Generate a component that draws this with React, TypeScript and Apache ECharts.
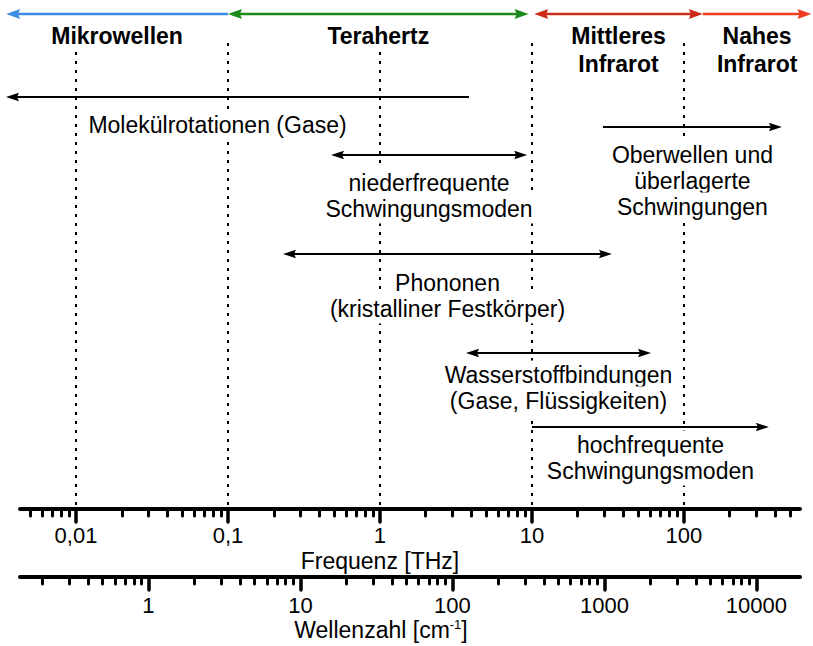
import React, { useEffect, useRef } from "react";
import * as echarts from "echarts";

// ---------- axis data ----------
const FREQ_RANGE = [0.00428, 580]; // THz, visible extent of the frequency axis
const CM_PER_THZ = 33.356; // 1 THz = 33.356 cm^-1
const FREQ_TICKS = [0.01, 0.1, 1, 10, 100];
const FREQ_TICK_LABELS = ["0,01", "0,1", "1", "10", "100"];
const WAVE_TICKS = [1, 10, 100, 1000, 10000];
const WAVE_TICK_LABELS = ["1", "10", "100", "1000", "10000"];
const MINOR_MULTIPLIERS = [2, 3, 4, 5, 6, 7, 8, 9];
const DECADES = [0.001, 0.01, 0.1, 1, 10, 100, 1000, 10000, 100000];

// ---------- spectral bands (top coloured arrows) ----------
const BAND_NAMES = ["Mikrowellen", "Terahertz", "Mittleres\nInfrarot", "Nahes\nInfrarot"];
const BAND_FROM = [0.00347, 0.1, 10.35, 133];
const BAND_TO = [0.1, 9.5, 133, 690];
const BAND_HEAD_START = [true, true, true, false];
const BAND_HEAD_END = [false, true, true, true];

// ---------- processes (black arrows) ----------
const PROC_NAMES = [
  "Molekülrotationen (Gase)",
  "Oberwellen und\nüberlagerte\nSchwingungen",
  "niederfrequente\nSchwingungsmoden",
  "Phononen\n(kristalliner Festkörper)",
  "Wasserstoffbindungen\n(Gase, Flüssigkeiten)",
  "hochfrequente\nSchwingungsmoden",
];
const PROC_FROM = [0.00346, 29.3, 0.476, 0.23, 3.68, 10];
const PROC_TO = [3.85, 441, 9.3, 33.6, 60.7, 362];
const PROC_HEAD_START = [true, false, true, true, true, false];
const PROC_HEAD_END = [false, true, true, true, true, true];
const PROC_LABEL_AT = [0.0853, null, null, null, null, null]; // label centre (THz), null = arrow middle

// ---------- layout & style (pixels) ----------
const FONT = '"Liberation Sans", Arial, Helvetica, sans-serif';
const BAND_COLORS = ["#3a8de2", "#1a8a1a", "#cc2a18", "#f03c1e"];
const BAND_ROW_Y = 14;
const BAND_LABEL_Y = 36;
const PROC_ROW_Y = [97, 127, 155, 254, 353, 427];
const PROC_LABEL_Y = [125, 155, 183, 283, 375, 445];
const GUIDE_TOP = 43;
const GUIDE_BOTTOM = 507;

const lg = (v: number) => Math.log10(v);

function minorValues(lo: number, hi: number) {
  const out: number[] = [];
  DECADES.forEach((d) =>
    MINOR_MULTIPLIERS.forEach((m) => {
      const v = lg(d * m);
      if (v >= lo && v <= hi) out.push(v);
    })
  );
  return out;
}

type Item = {
  from: number;
  to: number;
  labelAt: number;
  y: number;
  labelY: number;
  lines: string[];
  headStart: boolean;
  headEnd: boolean;
  color: string;
  width: number;
  bold: boolean;
  lineH: number;
  headLen: number;
  headHalf: number;
};

function buildItems(): Item[] {
  const items: Item[] = [];
  BAND_NAMES.forEach((name, i) => {
    items.push({
      from: lg(BAND_FROM[i]),
      to: lg(BAND_TO[i]),
      labelAt: (lg(BAND_FROM[i]) + lg(BAND_TO[i])) / 2,
      y: BAND_ROW_Y,
      labelY: BAND_LABEL_Y,
      lines: name.split("\n"),
      headStart: BAND_HEAD_START[i],
      headEnd: BAND_HEAD_END[i],
      color: BAND_COLORS[i],
      width: 2.5,
      bold: true,
      lineH: 28,
      headLen: 14,
      headHalf: 5,
    });
  });
  PROC_NAMES.forEach((name, i) => {
    const la = PROC_LABEL_AT[i];
    items.push({
      from: lg(PROC_FROM[i]),
      to: lg(PROC_TO[i]),
      labelAt: la != null ? lg(la) : (lg(PROC_FROM[i]) + lg(PROC_TO[i])) / 2,
      y: PROC_ROW_Y[i],
      labelY: PROC_LABEL_Y[i],
      lines: name.split("\n"),
      headStart: PROC_HEAD_START[i],
      headEnd: PROC_HEAD_END[i],
      color: "#000",
      width: 2,
      bold: false,
      lineH: 26,
      headLen: 13,
      headHalf: 4.3,
    });
  });
  return items;
}

export default function App() {
  const ref = useRef<HTMLDivElement>(null);

  useEffect(() => {
    document.body.style.margin = "0";
    if (!ref.current) return;
    const chart = echarts.init(ref.current, undefined, { renderer: "svg" });

    const fMin = lg(FREQ_RANGE[0]);
    const fMax = lg(FREQ_RANGE[1]);
    const wMin = fMin + lg(CM_PER_THZ);
    const wMax = fMax + lg(CM_PER_THZ);
    const freqMajor = FREQ_TICKS.map(lg);
    const waveMajor = WAVE_TICKS.map(lg);
    const items = buildItems();

    const labelFor = (ticks: number[], labels: string[]) => (v: number) => {
      const idx = ticks.findIndex((t) => Math.abs(lg(t) - v) < 1e-6);
      return idx >= 0 ? labels[idx] : "";
    };

    const axisBase = {
      type: "value",
      position: "bottom",
      splitLine: { show: false },
      silent: true,
    };
    const labelStyle = { color: "#000", fontSize: 22, fontFamily: FONT, lineHeight: 16 };
    const lineOn = { show: true, onZero: false, lineStyle: { color: "#000", width: 4 } };
    const lineOff = { show: false, onZero: false };

    const option: any = {
      animation: false,
      textStyle: { fontFamily: FONT },
      grid: { left: 20, right: 13, top: 0, bottom: 137 },
      xAxis: [
        {
          ...axisBase,
          min: fMin,
          max: fMax,
          axisLine: lineOn,
          axisTick: {
            show: true,
            customValues: freqMajor,
            length: 13,
            lineStyle: { color: "#000", width: 3.5, cap: "round" },
          },
          axisLabel: {
            show: true,
            customValues: freqMajor,
            formatter: labelFor(FREQ_TICKS, FREQ_TICK_LABELS),
            margin: 18,
            ...labelStyle,
          },
        },
        {
          ...axisBase,
          min: fMin,
          max: fMax,
          axisLine: lineOff,
          axisTick: {
            show: true,
            customValues: minorValues(fMin, fMax),
            length: 7,
            lineStyle: { color: "#000", width: 3, cap: "round" },
          },
          axisLabel: { show: false },
        },
        {
          ...axisBase,
          min: wMin,
          max: wMax,
          offset: 68,
          axisLine: lineOn,
          axisTick: {
            show: true,
            customValues: waveMajor,
            length: 13,
            lineStyle: { color: "#000", width: 3.5, cap: "round" },
          },
          axisLabel: {
            show: true,
            customValues: waveMajor,
            formatter: labelFor(WAVE_TICKS, WAVE_TICK_LABELS),
            margin: 20,
            ...labelStyle,
          },
        },
        {
          ...axisBase,
          min: wMin,
          max: wMax,
          offset: 68,
          axisLine: lineOff,
          axisTick: {
            show: true,
            customValues: minorValues(wMin, wMax),
            length: 7,
            lineStyle: { color: "#000", width: 3, cap: "round" },
          },
          axisLabel: { show: false },
        },
      ],
      yAxis: { type: "value", min: 0, max: 509, inverse: true, show: false },
      graphic: [
        {
          type: "text",
          x: 380,
          y: 561,
          style: {
            text: "Frequenz [THz]",
            fill: "#000",
            fontSize: 23,
            fontFamily: FONT,
            lineHeight: 18,
            align: "center",
            verticalAlign: "middle",
          },
        },
        {
          type: "text",
          x: 381,
          y: 630,
          style: {
            text: "{a|Wellenzahl [cm}{s|-1}{a|]}",
            fill: "#000",
            align: "center",
            verticalAlign: "middle",
            rich: {
              a: { fontSize: 23, fontFamily: FONT, fill: "#000", lineHeight: 24 },
              s: { fontSize: 13, fontFamily: FONT, fill: "#000", verticalAlign: "top", lineHeight: 13 },
            },
          },
        },
      ],
      series: [
        {
          type: "custom",
          name: "guides",
          z: 1,
          silent: true,
          xAxisIndex: 0,
          yAxisIndex: 0,
          data: freqMajor.map((v) => [v, 0]),
          renderItem: (params: any, api: any) => {
            const x = api.coord([api.value(0), 0])[0];
            return {
              type: "line",
              shape: { x1: x, y1: GUIDE_TOP, x2: x, y2: GUIDE_BOTTOM },
              style: { stroke: "#000", lineWidth: 2, lineDash: [3, 6] },
            };
          },
        },
        {
          type: "custom",
          name: "ranges",
          z: 2,
          silent: true,
          xAxisIndex: 0,
          yAxisIndex: 0,
          data: items.map((it) => [it.from, it.to, it.labelAt]),
          renderItem: (params: any, api: any) => {
            const it = items[params.dataIndex];
            const x1 = api.coord([api.value(0), 0])[0];
            const x2 = api.coord([api.value(1), 0])[0];
            const xl = api.coord([api.value(2), 0])[0];
            const y = it.y;
            const children: any[] = [];
            it.lines.forEach((t, i) => {
              children.push({
                type: "text",
                x: xl,
                y: it.labelY + i * it.lineH,
                style: {
                  text: t,
                  fill: "#000",
                  fontSize: 23,
                  fontFamily: FONT,
                  fontWeight: it.bold ? "bold" : "normal",
                  align: "center",
                  verticalAlign: "middle",
                  backgroundColor: "#fff",
                  padding: [3, 4],
                },
              });
            });
            const L = it.headLen;
            const H = it.headHalf;
            const sx1 = it.headStart ? x1 + L * 0.7 : x1;
            const sx2 = it.headEnd ? x2 - L * 0.7 : x2;
            children.push({
              type: "line",
              shape: { x1: sx1, y1: y, x2: sx2, y2: y },
              style: { stroke: it.color, lineWidth: it.width },
            });
            if (it.headStart) {
              children.push({
                type: "polygon",
                shape: { points: [[x1, y], [x1 + L, y - H], [x1 + L * 0.85, y], [x1 + L, y + H]] },
                style: { fill: it.color },
              });
            }
            if (it.headEnd) {
              children.push({
                type: "polygon",
                shape: { points: [[x2, y], [x2 - L, y - H], [x2 - L * 0.85, y], [x2 - L, y + H]] },
                style: { fill: it.color },
              });
            }
            return { type: "group", children };
          },
        },
      ],
    };

    chart.setOption(option);
    return () => chart.dispose();
  }, []);

  return (
    <div
      ref={ref}
      style={{ position: "absolute", left: 0, top: 0, width: 813, height: 646, background: "#fff" }}
    />
  );
}
